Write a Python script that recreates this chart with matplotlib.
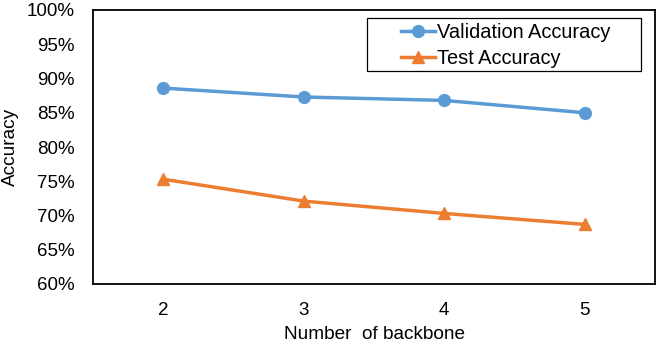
import matplotlib
matplotlib.use("Agg")
import matplotlib.pyplot as plt
from matplotlib.ticker import PercentFormatter
from matplotlib.patches import Rectangle

plt.rcParams['font.family'] = ['Liberation Sans', 'DejaVu Sans']

backbones = ['2', '3', '4', '5']
valAcc = [88.6, 87.3, 86.8, 85.0]
testAcc = [75.3, 72.1, 70.3, 68.7]

fig = plt.figure(figsize=(6.58, 3.44), dpi=100)
ax = fig.add_axes([93/658, 1 - 284/344, (655-93)/658, (284-10)/344])

xs = range(len(backbones))
ax.plot(xs, valAcc, '-o', color='#5B9BD5', lw=2.5, ms=8.5, label='Validation Accuracy')
ax.plot(xs, testAcc, '-^', color='#ED7D31', lw=2.5, ms=8.5, label='Test Accuracy')

ax.set_xlim(-0.5, 3.5)
ax.set_ylim(60, 100)
ax.set_xticks(list(xs))
ax.set_xticklabels(backbones)
ax.set_yticks(range(60, 101, 5))
ax.yaxis.set_major_formatter(PercentFormatter(decimals=0))
ax.tick_params(length=0, labelsize=13.5)
ax.tick_params(axis='y', pad=13)
ax.tick_params(axis='x', pad=13)
for s in ax.spines.values():
    s.set_linewidth(1.3)

ax.set_xlabel('Number  of backbone', fontsize=13.7, labelpad=5)
ax.set_ylabel('Accuracy', fontsize=13.7, labelpad=6)

# legend box drawn separately (wide padding like the original)
ax.add_patch(Rectangle((0.4875, 0.777), 0.4875, 0.194, transform=ax.transAxes,
                       fill=False, edgecolor='black', lw=0.9, zorder=5))
leg = ax.legend(loc='upper left', bbox_to_anchor=(0.548, 0.951), fontsize=14.4,
                frameon=False, handlelength=1.7, handletextpad=0.12,
                borderpad=0, borderaxespad=0, labelspacing=0.35)

fig.savefig('out.png', dpi=100)
